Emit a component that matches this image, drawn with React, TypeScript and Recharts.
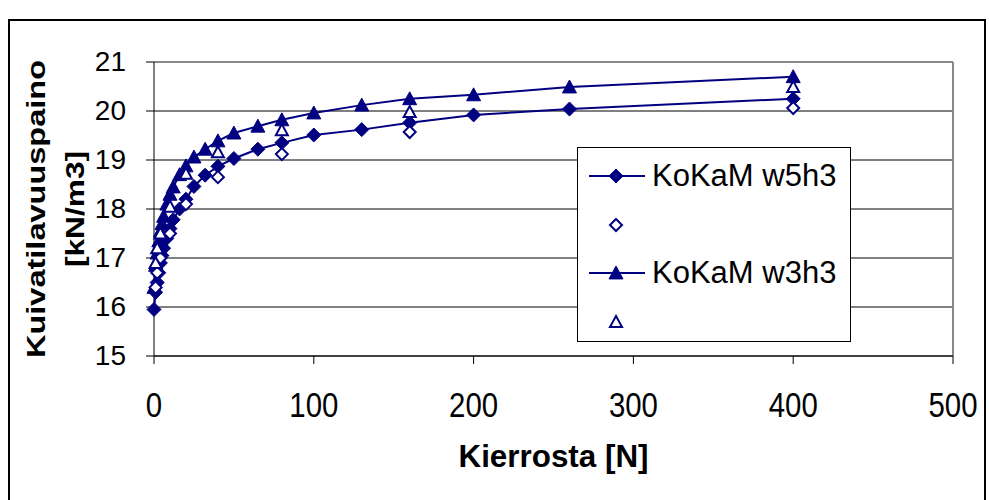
import React from "react";
import {
  ScatterChart,
  Scatter,
  XAxis,
  YAxis,
  CartesianGrid,
  ReferenceLine,
  Legend,
} from "recharts";

const NAVY = "#000080";
const FONT = "'Liberation Sans', Arial, sans-serif";

// kierrokset (gyratory cycles)
const cycles = [0, 1, 2, 3, 4, 5, 6, 8, 10, 12, 16, 20, 25, 32, 40, 50, 65, 80, 100, 130, 160, 200, 260, 400];
const w5h3 = [15.95, 16.3, 16.5, 16.7, 16.9, 17.05, 17.2, 17.4, 17.6, 17.78, 18.0, 18.2, 18.46, 18.69, 18.87, 19.03, 19.22, 19.35, 19.51, 19.62, 19.76, 19.92, 20.04, 20.25];
const w3h3 = [16.4, 16.85, 17.1, 17.35, 17.55, 17.7, 17.85, 18.1, 18.3, 18.45, 18.7, 18.88, 19.06, 19.22, 19.39, 19.55, 19.69, 19.82, 19.96, 20.12, 20.25, 20.33, 20.49, 20.7];

// erilliset mittaukset (open markers)
const checkCycles = [1, 2, 4, 10, 20, 40, 80, 160, 400];
const w5h3Check = [16.4, 16.7, 17.0, 17.5, 18.1, 18.65, 19.12, 19.57, 20.06];
const w3h3Check = [16.9, 17.2, 17.5, 18.05, 18.72, 19.16, 19.61, 19.98, 20.49];

const xTicks = [0, 100, 200, 300, 400, 500];
const yTicks = [15, 16, 17, 18, 19, 20, 21];

const toPoints = (xs: number[], ys: number[]) => xs.map((x, i) => ({ x, y: ys[i] }));

type MarkProps = { cx?: number; cy?: number; open?: boolean };

function DiamondMark({ cx = 0, cy = 0, open }: MarkProps) {
  const r = open ? 6 : 7;
  const d = `M${cx},${cy - r}L${cx + r},${cy}L${cx},${cy + r}L${cx - r},${cy}Z`;
  return open ? (
    <path d={d} fill="#fff" stroke={NAVY} strokeWidth={2} />
  ) : (
    <path d={d} fill={NAVY} stroke={NAVY} strokeWidth={1} />
  );
}

function TriangleMark({ cx = 0, cy = 0, open }: MarkProps) {
  const h = open ? 6 : 7;
  const d = `M${cx},${cy - h}L${cx + h},${cy + h * 0.85}L${cx - h},${cy + h * 0.85}Z`;
  return open ? (
    <path d={d} fill="#fff" stroke={NAVY} strokeWidth={2} />
  ) : (
    <path d={d} fill={NAVY} stroke={NAVY} strokeWidth={1} />
  );
}

const legendItems = [
  { name: "KoKaM w5h3", mark: "diamond", open: false },
  { name: "", mark: "diamond", open: true },
  { name: "KoKaM w3h3", mark: "triangle", open: false },
  { name: "", mark: "triangle", open: true },
];

function LegendBox() {
  return (
    <div
      style={{
        width: 274,
        height: 195,
        border: "1px solid #000",
        background: "#fff",
        boxSizing: "border-box",
        fontFamily: FONT,
        paddingTop: 4,
      }}
    >
      {legendItems.map((it, i) => (
        <div key={i} style={{ display: "flex", alignItems: "center", height: 48.5 }}>
          <svg width={74} height={30} style={{ flex: "none" }}>
            {!it.open && <line x1={11} x2={67} y1={15} y2={15} stroke={NAVY} strokeWidth={2} />}
            {it.mark === "diamond" ? (
              <DiamondMark cx={38} cy={15} open={it.open} />
            ) : (
              <TriangleMark cx={38} cy={15} open={it.open} />
            )}
          </svg>
          <span style={{ fontSize: 31, color: "#000", whiteSpace: "nowrap" }}>{it.name}</span>
        </div>
      ))}
    </div>
  );
}

function XTick({ x, y, payload }: any) {
  return (
    <g transform={`translate(${x},${y + 51})`}>
      <text transform="scale(0.84,1)" textAnchor="middle" fontSize={35} fontFamily={FONT} fill="#000">
        {payload.value}
      </text>
    </g>
  );
}

function YTick({ x, y, payload }: any) {
  return (
    <text x={x} y={y} dy={9} textAnchor="end" fontSize={28} fontFamily={FONT} fill="#000">
      {payload.value}
    </text>
  );
}

function XTitle({ viewBox }: any) {
  const cx = viewBox.x + viewBox.width / 2;
  return (
    <text x={cx} y={467} textAnchor="middle" fontSize={32} fontWeight="bold" fontFamily={FONT} textLength={190} lengthAdjust="spacingAndGlyphs">
      Kierrosta [N]
    </text>
  );
}

function YTitle({ viewBox }: any) {
  const cy = viewBox.y + viewBox.height / 2;
  return (
    <g>
      <text
        transform={`translate(45,${cy}) rotate(-90)`}
        textAnchor="middle"
        fontSize={25}
        fontWeight="bold"
        fontFamily={FONT}
        textLength={298}
        lengthAdjust="spacingAndGlyphs"
      >
        Kuivatilavuuspaino
      </text>
      <text
        transform={`translate(84,${cy}) rotate(-90)`}
        textAnchor="middle"
        fontSize={25}
        fontWeight="bold"
        fontFamily={FONT}
        textLength={116}
        lengthAdjust="spacingAndGlyphs"
      >
        [kN/m3]
      </text>
    </g>
  );
}

export default function App() {
  return (
    <div style={{ position: "absolute", left: 0, top: 0, width: 989, height: 500, background: "#fff", overflow: "hidden" }}>
      <div
        style={{
          position: "absolute",
          left: 8,
          top: 19,
          width: 978,
          height: 520,
          border: "2px solid #000",
          boxSizing: "border-box",
        }}
      />
      <div style={{ position: "absolute", left: 0, top: 0 }}>
        <ScatterChart width={989} height={500} margin={{ top: 62, right: 36, bottom: 0, left: 0 }}>
          <CartesianGrid horizontal vertical={false} stroke="#000" strokeWidth={1} />
          <XAxis
            type="number"
            dataKey="x"
            domain={[0, 500]}
            ticks={xTicks}
            interval={0}
            height={144}
            tickSize={8}
            stroke="#000"
            tick={<XTick />}
            label={{ content: XTitle }}
          />
          <YAxis
            type="number"
            dataKey="y"
            domain={[15, 21]}
            ticks={yTicks}
            interval={0}
            width={154}
            tickSize={8}
            tickMargin={20}
            stroke="#000"
            tick={<YTick />}
            label={{ content: YTitle }}
          />
          <ReferenceLine y={21} stroke="#888" strokeWidth={2} />
          <ReferenceLine x={500} stroke="#888" strokeWidth={2} />
          <Legend
            layout="vertical"
            align="center"
            verticalAlign="middle"
            content={() => <LegendBox />}
            wrapperStyle={{ position: "absolute", left: 577, top: 147, width: 274, height: 195 }}
          />
          <Scatter
            name="KoKaM w5h3"
            data={toPoints(cycles, w5h3)}
            line={{ stroke: NAVY, strokeWidth: 2 }}
            lineType="joint"
            shape={(p: any) => <DiamondMark cx={p.cx} cy={p.cy} />}
            isAnimationActive={false}
          />
          <Scatter
            name="KoKaM w3h3"
            data={toPoints(cycles, w3h3)}
            line={{ stroke: NAVY, strokeWidth: 2 }}
            lineType="joint"
            shape={(p: any) => <TriangleMark cx={p.cx} cy={p.cy} />}
            isAnimationActive={false}
          />
          <Scatter
            name="w5h3 open"
            data={toPoints(checkCycles, w5h3Check)}
            shape={(p: any) => <DiamondMark cx={p.cx} cy={p.cy} open />}
            isAnimationActive={false}
          />
          <Scatter
            name="w3h3 open"
            data={toPoints(checkCycles, w3h3Check)}
            shape={(p: any) => <TriangleMark cx={p.cx} cy={p.cy} open />}
            isAnimationActive={false}
          />
        </ScatterChart>
      </div>
    </div>
  );
}
